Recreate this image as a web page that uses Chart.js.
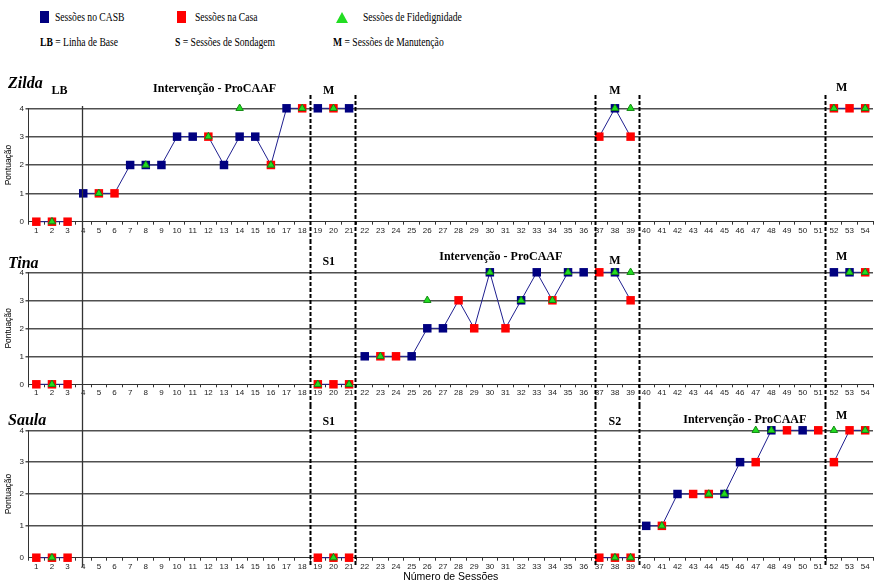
<!DOCTYPE html>
<html>
<head>
<meta charset="utf-8">
<script src="https://cdn.jsdelivr.net/npm/chart.js@4.4.1/dist/chart.umd.min.js"></script>
<style>
  body { margin: 0; width: 879px; height: 585px; position: relative; overflow: hidden; background: #fff; font-family: "Liberation Serif", serif; }
  canvas { position: absolute; left: 0; }
  .key { position: absolute; font-size: 13px; color: #000; white-space: nowrap; transform: scaleX(0.74); transform-origin: left center; line-height: 16px; }
  .sw { position: absolute; }
</style>
</head>
<body>
<div class="sw" style="left:40px;top:11px;width:9px;height:12px;background:#000080"></div>
<div class="key" style="left:55px;top:9px">Sessões no CASB</div>
<div class="sw" style="left:177px;top:11px;width:9px;height:12px;background:#ff0000"></div>
<div class="key" style="left:195px;top:9px">Sessões na Casa</div>
<div class="sw" style="left:336px;top:12px;width:12px;height:11px;background:#22dd22;clip-path:polygon(50% 0,100% 100%,0 100%)"></div>
<div class="key" style="left:363px;top:9px">Sessões de Fidedignidade</div>
<div class="key" style="left:40px;top:34px"><b>LB</b> = Linha de Base</div>
<div class="key" style="left:175px;top:34px"><b>S</b> = Sessões de Sondagem</div>
<div class="key" style="left:333px;top:34px"><b>M</b> = Sessões de Manutenção</div>

<canvas id="zilda" width="879" height="174" style="top:66px"></canvas>
<canvas id="tina" width="879" height="165" style="top:240px"></canvas>
<canvas id="saula" width="879" height="180" style="top:405px"></canvas>

<script>
const sessionLabels = [1,2,3,4,5,6,7,8,9,10,11,12,13,14,15,16,17,18,19,20,21,22,23,24,25,26,27,
  28,29,30,31,32,33,34,35,36,37,38,39,40,41,42,43,44,45,46,47,48,49,50,51,52,53,54];
const scoreTicks = [0, 1, 2, 3, 4];

// Zilda
const zildaSessions = [1,2,3,4,5,6,7,8,9,10,11,12,13,14,15,16,17,18,19,20,21,37,38,39,52,53,54];
const zildaScores   = [0,0,0,1,1,1,2,2,2,3,3,3,2,3,3,2,4,4,4,4,4,3,4,3,4,4,4];
const zildaPlace    = ['casa','casa','casa','casb','casa','casa','casb','casb','casb','casb','casb','casa','casb','casb',
  'casb','casa','casb','casa','casb','casa','casb','casa','casb','casa','casa','casa','casa'];
const zildaFidSessions = [2,5,8,12,14,16,18,20,38,39,52,54];
const zildaFidScores   = [0,1,2,3,4,2,4,4,4,4,4,4];
const zildaPhases = [[1,3],[4,18],[19,21],[37,39],[52,54]];

// Tina
const tinaSessions = [1,2,3,19,20,21,22,23,24,25,26,27,28,29,30,31,32,33,34,35,36,37,38,39,52,53,54];
const tinaScores   = [0,0,0,0,0,0,1,1,1,1,2,2,3,2,4,2,3,4,3,4,4,4,4,3,4,4,4];
const tinaPlace    = ['casa','casa','casa','casa','casa','casa','casb','casa','casa','casb','casb','casb','casa','casa',
  'casb','casa','casb','casb','casa','casb','casb','casa','casb','casa','casb','casb','casa'];
const tinaFidSessions = [2,19,21,23,26,30,32,34,35,38,39,53,54];
const tinaFidScores   = [0,0,0,1,3,4,3,3,4,4,4,4,4];
const tinaPhases = [[1,3],[19,21],[22,36],[37,39],[52,54]];

// Saula
const saulaSessions = [1,2,3,19,20,21,37,38,39,40,41,42,43,44,45,46,47,48,49,50,51,52,53,54];
const saulaScores   = [0,0,0,0,0,0,0,0,0,1,1,2,2,2,2,3,3,4,4,4,4,3,4,4];
const saulaPlace    = ['casa','casa','casa','casa','casa','casa','casa','casa','casa','casb','casa','casb','casa','casa',
  'casb','casb','casa','casb','casa','casb','casa','casa','casa','casa'];
const saulaFidSessions = [2,20,38,39,41,44,45,47,48,52,54];
const saulaFidScores   = [0,0,0,0,1,2,2,4,4,4,4];
const saulaPhases = [[1,3],[19,21],[37,39],[40,51],[52,54]];

// phase change lines, shared by the three panels
const phaseRules = [
  { at: 3.93, dashed: false },
  { at: 18.5, dashed: true },
  { at: 21.35, dashed: true },
  { at: 36.75, dashed: true },
  { at: 39.55, dashed: true },
  { at: 51.45, dashed: true }
];

const phasePlugin = {
  id: 'phases',
  afterDatasetsDraw(chart, args, opts) {
    const { ctx } = chart;
    const x = chart.scales.x;
    ctx.save();
    phaseRules.forEach(r => {
      const px = Math.round(x.getPixelForValue(r.at)) + 0.5;
      ctx.beginPath();
      ctx.setLineDash(r.dashed ? [4, 2] : []);
      ctx.lineWidth = r.dashed ? 2 : 1.3;
      ctx.strokeStyle = r.dashed ? '#000' : '#333';
      ctx.moveTo(px, r.dashed ? opts.dashTop : opts.solidTop);
      ctx.lineTo(px, opts.bottom);
      ctx.stroke();
    });
    ctx.setLineDash([]);
    ctx.fillStyle = '#000';
    ctx.textAlign = 'center';
    ctx.textBaseline = 'middle';
    ctx.font = 'bold 12px "Liberation Serif"';
    opts.labels.forEach(l => ctx.fillText(l.text, x.getPixelForValue(l.at), l.y));
    ctx.textAlign = 'left';
    ctx.font = 'italic bold 16px "Liberation Serif"';
    ctx.fillText(opts.name, 8, opts.nameY);
    ctx.restore();
  }
};

function buildDatasets(sessions, scores, place, fidSessions, fidScores, phases) {
  const all = sessions.map((s, i) => ({ x: s, y: scores[i], p: place[i] }));
  const sets = phases.map(([a, b]) => ({
    data: all.filter(d => d.x >= a && d.x <= b),
    showLine: true, borderColor: '#1f1f8f', borderWidth: 1, pointRadius: 0, order: 3, clip: false
  }));
  sets.push({
    label: 'Sessões no CASB', data: all.filter(d => d.p === 'casb'),
    pointStyle: 'rect', pointRadius: 6, backgroundColor: '#000080', borderColor: '#000080', borderWidth: 0, order: 2, clip: false
  });
  sets.push({
    label: 'Sessões na Casa', data: all.filter(d => d.p === 'casa'),
    pointStyle: 'rect', pointRadius: 6, backgroundColor: '#ff0000', borderColor: '#ff0000', borderWidth: 0, order: 2, clip: false
  });
  sets.push({
    label: 'Sessões de Fidedignidade', data: fidSessions.map((s, i) => ({ x: s, y: fidScores[i] })),
    pointStyle: 'triangle', pointRadius: 4.3, backgroundColor: '#22dd22', borderColor: '#138a13', borderWidth: 1, order: 1, clip: false
  });
  return sets;
}

function makeChart(id, datasets, layout) {
  return new Chart(document.getElementById(id), {
    type: 'scatter',
    data: { datasets },
    plugins: [phasePlugin],
    options: {
      responsive: false,
      animation: false,
      events: [],
      layout: { padding: { top: layout.padTop, right: 2, left: 0, bottom: 0 } },
      plugins: {
        legend: { display: false },
        tooltip: { enabled: false },
        phases: layout.phases
      },
      scales: {
        x: {
          type: 'linear', min: 0.5, max: 54.5,
          afterBuildTicks: s => { s.ticks = sessionLabels.map(v => ({ value: v })); },
          afterFit: s => { s.height = layout.axisH; },
          grid: { offset: true, drawOnChartArea: false, tickLength: 3, color: '#333' },
          border: { color: '#333', width: 1 },
          ticks: { autoSkip: false, maxRotation: 0, padding: 1, color: '#222', font: { family: 'Liberation Sans', size: 8 } },
          title: layout.xTitle ? {
            display: true, text: 'Número de Sessões', color: '#000',
            font: { family: 'Liberation Sans', size: 10.5 }, padding: { top: 0, bottom: 1.5 }
          } : { display: false }
        },
        y: {
          min: 0, max: 4,
          afterBuildTicks: s => { s.ticks = scoreTicks.map(v => ({ value: v })); },
          afterFit: s => { s.width = 28.5; },
          grid: { color: c => c.tick && c.tick.value === 0 ? 'rgba(0,0,0,0)' : '#505050', lineWidth: 1.5, tickLength: 3 },
          border: { color: '#333', width: 1 },
          ticks: { padding: 1.5, color: '#222', font: { family: 'Liberation Sans', size: 8 } },
          title: { display: true, text: 'Pontuação', color: '#000', font: { family: 'Liberation Sans', size: 8.5 }, padding: { top: 4, bottom: 0 } }
        }
      }
    }
  });
}

makeChart('zilda', buildDatasets(zildaSessions, zildaScores, zildaPlace, zildaFidSessions, zildaFidScores, zildaPhases), {
  padTop: 42.3, axisH: 18.3,
  phases: {
    name: 'Zilda', nameY: 17.5, dashTop: 29, solidTop: 40, bottom: 174,
    labels: [
      { text: 'LB', at: 2.48, y: 25 },
      { text: 'Intervenção - ProCAAF', at: 12.4, y: 23 },
      { text: 'M', at: 19.7, y: 25 },
      { text: 'M', at: 38, y: 25 },
      { text: 'M', at: 52.5, y: 22 }
    ]
  }
});

makeChart('tina', buildDatasets(tinaSessions, tinaScores, tinaPlace, tinaFidSessions, tinaFidScores, tinaPhases), {
  padTop: 32.3, axisH: 20.7,
  phases: {
    name: 'Tina', nameY: 24, dashTop: 0, solidTop: 0, bottom: 165,
    labels: [
      { text: 'S1', at: 19.7, y: 21.7 },
      { text: 'Intervenção - ProCAAF', at: 30.7, y: 16.7 },
      { text: 'M', at: 38, y: 20.7 },
      { text: 'M', at: 52.5, y: 16.7 }
    ]
  }
});

makeChart('saula', buildDatasets(saulaSessions, saulaScores, saulaPlace, saulaFidSessions, saulaFidScores, saulaPhases), {
  padTop: 25.3, axisH: 27.3, xTitle: true,
  phases: {
    name: 'Saula', nameY: 15.7, dashTop: 0, solidTop: 0, bottom: 162,
    labels: [
      { text: 'S1', at: 19.7, y: 16.7 },
      { text: 'S2', at: 38, y: 16.7 },
      { text: 'Intervenção - ProCAAF', at: 46.3, y: 15 },
      { text: 'M', at: 52.5, y: 10.7 }
    ]
  }
});
</script>
</body>
</html>
